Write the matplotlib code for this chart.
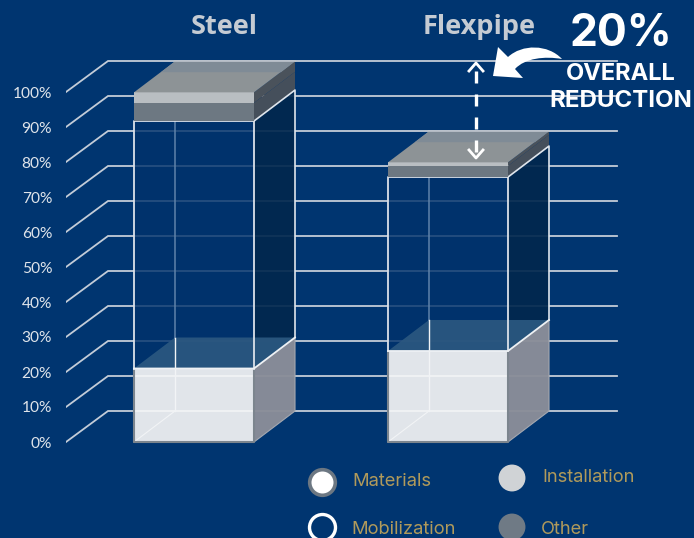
import numpy as np
import matplotlib
matplotlib.use("Agg")
from matplotlib import pyplot as plt
from matplotlib.patches import Polygon, PathPatch
from matplotlib.path import Path
from matplotlib.transforms import Affine2D

categories = ["Steel", "Flexpipe"]
materials = [21.0, 26.0]
mobilization = [70.7, 49.7]
other = [5.2, 3.2]
installation = [3.0, 1.0]
tick_values = [0, 10, 20, 30, 40, 50, 60, 70, 80, 90, 100]
tick_labels = ["0%", "10%", "20%", "30%", "40%", "50%", "60%", "70%", "80%", "90%", "100%"]

BG = "#003570"
W, H = 694, 538
PX_PER_PCT = 3.5
ZERO_Y = 442
DX = 41
DY = 31 / PX_PER_PCT
BAR_LEFT = [134, 388]
BAR_W = 120

fig = plt.figure(figsize=(W / 100, H / 100), dpi=100, facecolor=BG)
ax = fig.add_axes([66 / W, 0, (W - 66) / W, 1], facecolor=BG)
ax.set_xlim(66, W)
ax.set_ylim(-(H - ZERO_Y) / PX_PER_PCT, ZERO_Y / PX_PER_PCT)
for s in ax.spines.values():
    s.set_visible(False)
ax.set_xticks([])
ax.set_yticks(tick_values)
ax.set_yticklabels(tick_labels, family="Lato", fontsize=11.2, color="#dfe4ea")
ax.tick_params(axis="y", length=0, pad=10)

# pixel coordinates for the furniture, y going down
px = Affine2D().scale(1 / W, -1 / H).translate(0, 1) + fig.transFigure


def face(pts, color, alpha=1.0, z=3):
    ax.add_patch(Polygon(pts, closed=True, facecolor=color, alpha=alpha,
                         edgecolor="none", linewidth=0, zorder=z))


def front(x, v0, v1):
    return [(x, v0), (x + BAR_W, v0), (x + BAR_W, v1), (x, v1)]


def side(x, v0, v1):
    r = x + BAR_W
    return [(r, v0), (r + DX, v0 + DY), (r + DX, v1 + DY), (r, v1)]


def top(x, v):
    return [(x, v), (x + BAR_W, v), (x + BAR_W + DX, v + DY), (x + DX, v + DY)]


# grid: slanted stub then the back wall line
for v in tick_values:
    ax.plot([66, 66 + DX + 1, 617], [v, v + DY, v + DY], color="#c3ccd8", lw=1.3, zorder=1,
            solid_joinstyle="miter")

for i, x in enumerate(BAR_LEFT):
    m = materials[i]
    mob = m + mobilization[i]
    oth = mob + other[i]
    ins = oth + installation[i]

    # mobilization: clear box, grid shows through faintly
    face(side(x, m, mob), "#02274e", alpha=0.93, z=2)
    face(front(x, m, mob), "#01326c", alpha=0.82, z=2)
    face(top(x, m), "#2b5880", alpha=0.92, z=2.2)
    # back edges of the box
    ax.plot([x + DX, x + DX], [m + DY, mob + DY], color="#5f82aa", lw=1.1, zorder=2.5)
    ax.plot([x + BAR_W + DX, x + BAR_W + DX, x + BAR_W], [m + DY, mob + DY, mob],
            color="#dfe5ec", lw=1.2, zorder=5)
    ax.plot([x, x, x + BAR_W, x + BAR_W], [m, mob, mob, m], color="#dbe1e9", lw=1.3, zorder=5)

    # materials
    face(side(x, 0, m), "#8a8e99", alpha=0.97, z=3)
    face(front(x, 0, m), "#e1e5ea", z=3)
    ax.plot([x + DX, x + DX], [0 + DY, m + DY], color="#f2f4f6", lw=1.0, zorder=3.2)
    ax.plot([x, x + DX], [0, DY], color="#f2f4f6", lw=0.8, zorder=3.2)
    for v in tick_values:
        if v + DY < m:
            ax.plot([x, x + BAR_W], [v + DY, v + DY], color="#f1f3f5", lw=1.3, zorder=3.2)
    ax.plot([x + BAR_W, x + BAR_W + DX, x + BAR_W + DX], [0, DY, m + DY], color="#a4a8b0", lw=0.8, zorder=3.3)
    ax.plot([x, x + BAR_W, x + BAR_W + DX], [m, m, m + DY], color="#eef1f4", lw=1.3, zorder=5.1)
    ax.plot([x, x, x + BAR_W, x + BAR_W], [m, 0, 0, m], color="#7c858e", lw=1.5, zorder=3.4)

    # other and installation slabs on top
    face(front(x, mob, oth), "#6d7882", z=5.2)
    face(side(x, mob, oth), "#454f5b", z=4)
    face(front(x, oth, ins), "#b9bec2", z=5.2)
    face(side(x, oth, ins), "#4a525b", z=4)
    face(top(x, ins), "#8d9396", z=5.2)
    # strip along the back of the lid
    back = [(x + DX, ins + DY), (x + BAR_W + DX, ins + DY),
            (x + BAR_W + DX - 14, ins + DY - 3.1), (x + DX - 14, ins + DY - 3.1)]
    face(back, "#7f8b96", z=5.3)
    ax.plot([x + DX, x + BAR_W + DX], [ins + DY, ins + DY], color="#bcc3cb", lw=1.2, zorder=5.4)

# titles
ax.text(224, 27, categories[0], transform=px, family="Open Sans", weight="bold", fontsize=19.5,
        color="#c5cbd3", ha="center", va="center")
ax.text(479, 27, categories[1], transform=px, family="Open Sans", weight="bold", fontsize=19.5,
        color="#c5cbd3", ha="center", va="center")

# callout
ax.text(621, 34, "20%", transform=px, family="Inter", weight="bold", fontsize=32,
        color="white", ha="center", va="center", clip_on=False)
ax.text(621, 74, "OVERALL", transform=px, family="Inter", weight="bold", fontsize=17,
        color="white", ha="center", va="center", zorder=6)
ax.text(621, 101, "REDUCTION", transform=px, family="Inter", weight="bold", fontsize=17.3,
        color="white", ha="center", va="center", zorder=6)

# dashed double arrow between the two totals
ax.plot([476, 476], [71, 156], transform=px, color="white", lw=2.4, ls=(0, (3.6, 3.3)), zorder=6)
ax.plot([469, 476, 483], [71, 63, 71], transform=px, color="white", lw=2.0, zorder=6)
ax.plot([469, 476, 483], [150, 158, 150], transform=px, color="white", lw=2.0, zorder=6)

# curved arrow
verts = [(562, 59), (548, 44), (522, 44), (508, 57), (498, 47), (493, 76), (523, 78), (515, 69),
         (525, 58), (545, 56), (562, 59), (562, 59)]
codes = [Path.MOVETO, Path.CURVE4, Path.CURVE4, Path.CURVE4, Path.LINETO, Path.LINETO, Path.LINETO,
         Path.LINETO, Path.CURVE4, Path.CURVE4, Path.CURVE4, Path.CLOSEPOLY]
ax.add_patch(PathPatch(Path(verts, codes), facecolor="white", edgecolor="none", transform=px, zorder=6,
                       clip_on=False))

# legend
ax.scatter([322], [482], s=340, facecolor="white", edgecolor="#6c7782", linewidth=2.6, transform=px, zorder=6, clip_on=False)
ax.scatter([322], [527], s=350, facecolor=BG, edgecolor="white", linewidth=2.4, transform=px, zorder=6, clip_on=False)
ax.scatter([512], [478], s=375, facecolor="#d0d3d6", edgecolor="none", transform=px, zorder=6, clip_on=False)
ax.scatter([512], [527], s=375, facecolor="#6f7a85", edgecolor="none", transform=px, zorder=6, clip_on=False)
for tx, ty, lab in [(352, 482, "Materials"), (351, 530, "Mobilization"),
                    (542, 478, "Installation"), (541, 530, "Other")]:
    ax.text(tx, ty, lab, transform=px, family="Inter", fontsize=13.2, color="#b09a5b",
            ha="left", va="center", zorder=6)

fig.savefig("out.png", dpi=100, facecolor=BG)
